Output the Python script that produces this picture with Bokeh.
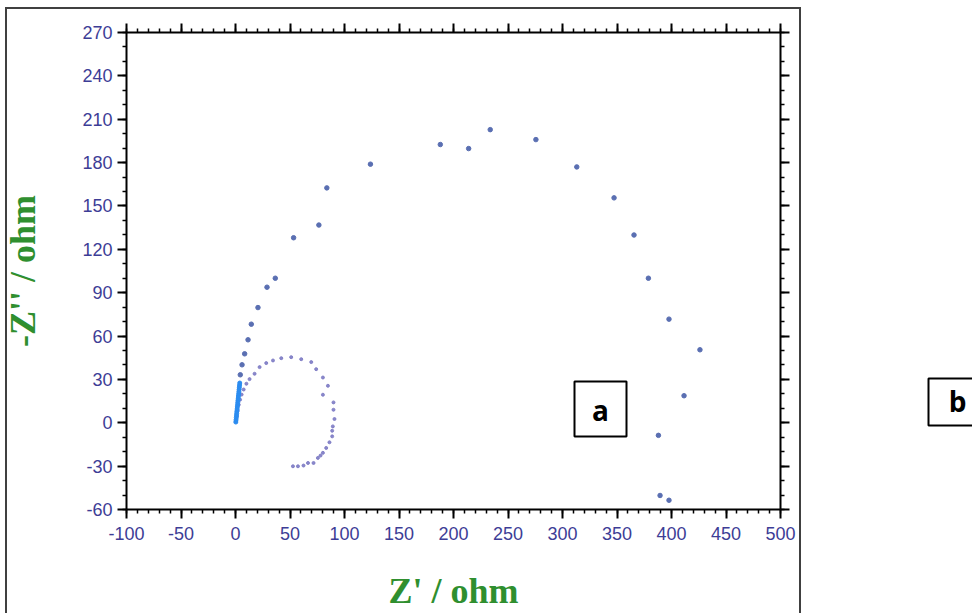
from bokeh.plotting import figure
from bokeh.layouts import row
from bokeh.models import (Range1d, LinearAxis, SingleIntervalTicker, BoxAnnotation,
                          Label, CustomJSTickFormatter)
from bokeh.embed import file_html
from bokeh.resources import INLINE

# ---- data ----
# high-frequency tail of the large arc (bright blue, dense near origin)
hf_re = [0.3, 0.5, 0.7, 0.9, 1.1, 1.3, 1.5, 1.7, 1.9, 2.1, 2.3, 2.5, 2.7, 2.9,
         3.1, 3.3, 3.5, 3.7, 3.9]
hf_im = [0.5, 2.0, 3.5, 5.0, 6.5, 8.0, 9.5, 11.0, 12.5, 14.0, 15.5, 17.0, 18.5,
         20.0, 21.5, 23.0, 24.5, 26.0, 27.5]
# large arc
arc_re = [4.4, 6.0, 8.4, 11.5, 14.5, 20.6, 28.9, 36.5, 53.3, 76.5, 83.8, 123.8,
          187.9, 213.9, 233.7, 275.6, 313.1, 347.3, 365.6, 378.8, 397.7, 426.1,
          411.5, 388.0, 389.5, 397.7]
arc_im = [33.2, 40.1, 47.7, 57.4, 68.2, 79.7, 93.8, 100.0, 128.0, 136.8, 162.5,
          178.9, 192.5, 189.7, 202.8, 195.9, 177.0, 155.6, 129.9, 100.0, 71.7,
          50.5, 18.7, -8.7, -50.3, -53.6]
# small loop
loop_re = [0.5, 1.2, 2.0, 3.0, 4.2, 5.6, 7.5, 10.0, 12.9, 17.5, 22.1, 28.2, 34.4,
           42.0, 51.1, 60.3, 69.5, 74.0, 80.2, 84.8, 80.2, 89.9, 89.9, 90.8, 89.3,
           88.7, 88.7, 86.2, 83.2, 80.2, 78.0, 75.6, 71.6, 66.5, 62.4, 57.3, 52.7]
loop_im = [1.0, 4.5, 8.5, 12.5, 16.0, 19.5, 23.0, 27.0, 30.2, 33.9, 38.5, 41.3,
           43.1, 44.7, 45.4, 44.0, 42.0, 37.1, 31.3, 25.6, 19.4, 14.1, 9.0, 2.6,
           -2.5, -5.5, -9.4, -13.5, -17.4, -20.8, -22.7, -24.3, -27.8, -27.8,
           -29.6, -30.1, -30.1]

x_title = "Z' / ohm"
y_title = "-Z'' / ohm"
panel_tags = ["a", "b"]

TICK_COLOR = "#3d3d96"
TITLE_COLOR = "#2f8f2f"
BORDER_COLOR = "#404040"

# main chart: page x 0..801, y 0..613
p = figure(width=801, height=613, x_range=Range1d(-100, 500), y_range=Range1d(-60, 270),
           output_backend="svg", toolbar_location=None,
           min_border_left=125, min_border_right=21, min_border_top=32,
           min_border_bottom=103, x_axis_location=None, y_axis_location=None)
# frame of the source panel (left, top and right edges) drawn behind a transparent canvas
p.styles = {
    "background-color": "white",
    "box-shadow": ("inset 5px 7px 0 0 white, inset 7px 9px 0 0 " + BORDER_COLOR +
                   ", inset -2px 0 0 0 " + BORDER_COLOR),
}
p.grid.visible = False
p.outline_line_color = None
p.background_fill_color = "white"
p.border_fill_color = None

label_fmt = CustomJSTickFormatter(code="return tick.toFixed(0)")


def style_axis(ax, labels=True):
    ax.axis_line_color = "black"
    ax.axis_line_width = 2
    ax.major_tick_line_color = "black"
    ax.major_tick_line_width = 2
    ax.minor_tick_line_color = "black"
    ax.minor_tick_line_width = 1.5
    ax.major_tick_out = 9
    ax.major_tick_in = 0
    ax.minor_tick_out = 4
    ax.minor_tick_in = 0
    if labels:
        ax.formatter = label_fmt
        ax.major_label_text_font = "Liberation Sans"
        ax.major_label_text_font_size = "18px"
        ax.major_label_text_color = TICK_COLOR
    else:
        ax.formatter = CustomJSTickFormatter(code="return ''")
        ax.major_label_text_font_size = "0px"
        ax.major_label_standoff = 0


xb = LinearAxis(ticker=SingleIntervalTicker(interval=50, num_minor_ticks=5),
                axis_label=x_title)
style_axis(xb)
xb.major_label_standoff = 8
xb.axis_label_standoff = 28
xb.axis_label_text_font = "Liberation Serif"
xb.axis_label_text_font_style = "bold"
xb.axis_label_text_font_size = "36px"
xb.axis_label_text_color = TITLE_COLOR
p.add_layout(xb, "below")

yl = LinearAxis(ticker=SingleIntervalTicker(interval=30, num_minor_ticks=3),
                axis_label=y_title)
style_axis(yl)
yl.major_label_standoff = 5
yl.axis_label_standoff = 36
yl.axis_label_text_font = "Liberation Serif"
yl.axis_label_text_font_style = "bold"
yl.axis_label_text_font_size = "36px"
yl.axis_label_text_color = TITLE_COLOR
p.add_layout(yl, "left")

xt = LinearAxis(ticker=SingleIntervalTicker(interval=50, num_minor_ticks=5))
style_axis(xt, labels=False)
p.add_layout(xt, "above")

yr = LinearAxis(ticker=SingleIntervalTicker(interval=30, num_minor_ticks=3))
style_axis(yr, labels=False)
p.add_layout(yr, "right")

p.scatter(loop_re, loop_im, size=3, color="#7d7bc4", alpha=0.9)
p.scatter(hf_re, hf_im, size=4, color="#2b8cf0")
p.scatter(arc_re, arc_im, size=4.5, color="#5a6fb2")

# tag "a" (inside the plot area)
p.add_layout(BoxAnnotation(left=574, right=626, top=381, bottom=436,
                           left_units="canvas", right_units="canvas",
                           top_units="canvas", bottom_units="canvas",
                           fill_color=None, line_color="black", line_alpha=1.0,
                           line_width=2))
p.add_layout(Label(x=600, y=409, x_units="canvas", y_units="canvas", text=panel_tags[0],
                   text_align="center", text_baseline="middle",
                   text_font="Open Sans", text_font_style="bold",
                   text_font_size="28px", text_color="black"))

# side strip holding tag "b": page x 801..972
pb = figure(width=171, height=613, x_range=Range1d(0, 1), y_range=Range1d(0, 1),
            output_backend="svg", toolbar_location=None, min_border=0,
            x_axis_location=None, y_axis_location=None)
pb.grid.visible = False
pb.outline_line_color = None
pb.background_fill_color = "white"
pb.border_fill_color = "white"
pb.add_layout(BoxAnnotation(left=127, right=200, top=378, bottom=425,
                            left_units="canvas", right_units="canvas",
                            top_units="canvas", bottom_units="canvas",
                            fill_color=None, line_color="black", line_alpha=1.0,
                            line_width=2))
pb.add_layout(Label(x=156, y=400, x_units="canvas", y_units="canvas", text=panel_tags[1],
                    text_align="center", text_baseline="middle",
                    text_font="Open Sans", text_font_style="bold",
                    text_font_size="28px", text_color="black"))

layout = row(p, pb, spacing=0)
open("out.html", "w").write(file_html(layout, INLINE))
